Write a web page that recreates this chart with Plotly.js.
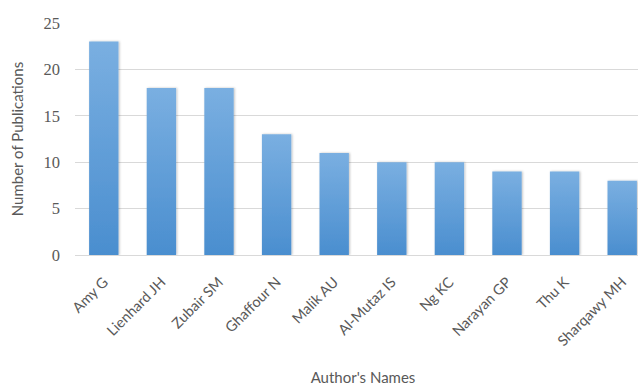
<!DOCTYPE html>
<html>
<head>
<meta charset="utf-8">
<script src="https://cdn.plot.ly/plotly-3.0.1.min.js"></script>
<style>
html,body{margin:0;padding:0;overflow:hidden;background:#fff;width:638px;height:388px;}
#chart{width:652px;height:400px;}
</style>
</head>
<body>
<div id="chart"></div>
<script>
const authors = ["Amy G","Lienhard JH","Zubair SM","Ghaffour N","Malik AU","Al-Mutaz IS","Ng KC","Narayan GP","Thu K","Sharqawy MH"];
const publications = [23,18,18,13,11,10,10,9,9,8];
const yTicks = [0,5,10,15,20,25];

const trace = {
  type: "bar",
  x: authors,
  y: publications,
  marker: {color: "#5B9BD5", line: {width: 0}},
  hoverinfo: "x+y"
};

const layout = {
  width: 652,
  height: 400,
  margin: {l: 75, r: 1, t: 23, b: 145},
  paper_bgcolor: "#ffffff",
  plot_bgcolor: "#ffffff",
  bargap: 0.49,
  showlegend: false,
  font: {family: "Lato, sans-serif", color: "#595959", size: 14},
  xaxis: {
    tickangle: -45,
    showgrid: false,
    showline: true,
    linecolor: "#D9D9D9",
    linewidth: 1,
    ticks: "",
    ticklabelstandoff: 12,
    tickfont: {family: "Lato, sans-serif", size: 14.5, color: "#595959"},
    automargin: false,
    title: {text: "Author's Names", font: {family: "Lato, sans-serif", size: 15, color: "#595959"}, standoff: 24}
  },
  yaxis: {
    range: [0, 25],
    tickvals: yTicks,
    showgrid: true,
    gridcolor: "#D9D9D9",
    zeroline: false,
    showline: false,
    ticks: "",
    ticklen: 0,
    ticklabelstandoff: 14,
    tickfont: {family: "Liberation Serif, serif", size: 16.5, color: "#595959"},
    automargin: false,
    title: {text: "Number of Publications", font: {family: "Lato, sans-serif", size: 15, color: "#595959"}, standoff: 16}
  }
};

Plotly.newPlot("chart", [trace], layout, {displayModeBar: false, staticPlot: true}).then(function(gd){
  const svg = gd.querySelector("svg.main-svg");
  const ns = "http://www.w3.org/2000/svg";
  const defs = document.createElementNS(ns, "defs");
  defs.innerHTML =
    '<linearGradient id="barGrad" x1="0" y1="0" x2="0" y2="1">' +
    '<stop offset="0" stop-color="#7AAFE1"/>' +
    '<stop offset="1" stop-color="#4A8ECF"/></linearGradient>' +
    '<filter id="barShadow" x="-20%" y="-5%" width="140%" height="110%">' +
    '<feDropShadow dx="1" dy="0" stdDeviation="0.8" flood-color="#000" flood-opacity="0.25"/></filter>';
  svg.insertBefore(defs, svg.firstChild);
  gd.querySelectorAll(".bars path").forEach(function(p){
    p.style.fill = "url(#barGrad)";
    p.setAttribute("filter", "url(#barShadow)");
  });
});
</script>
</body>
</html>
